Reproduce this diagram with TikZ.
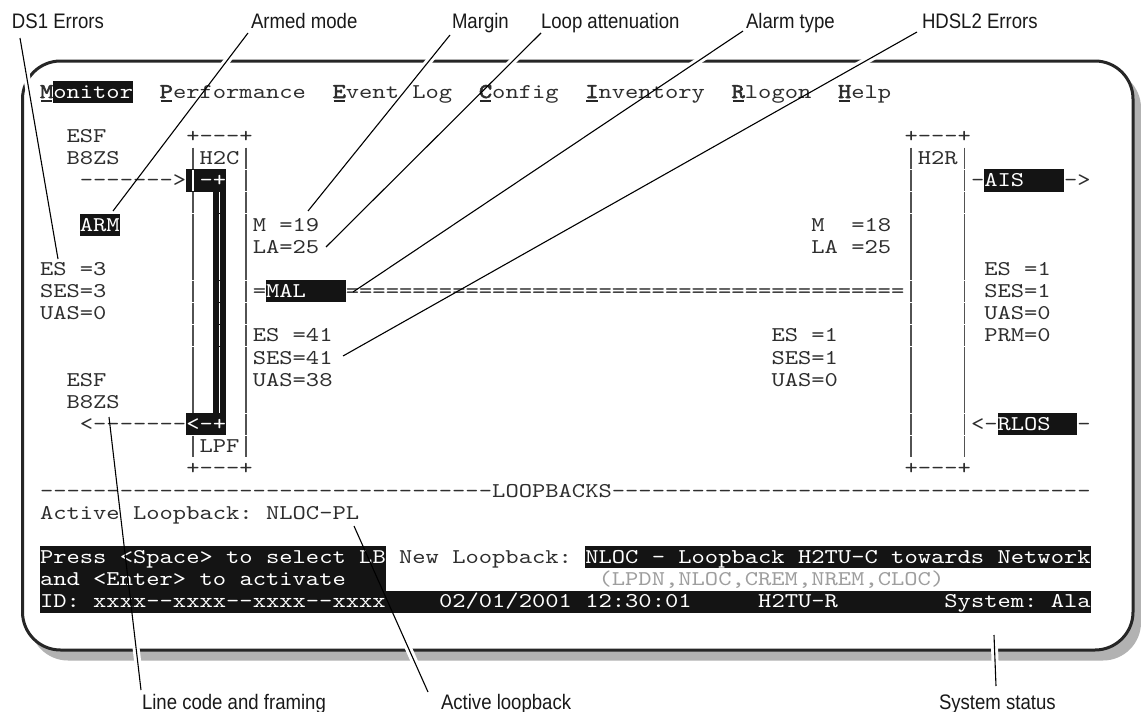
\documentclass[tikz,border=0pt]{standalone}
\usepackage{fontspec}
\newfontfamily\mono{lmmono10-regular.otf}[FakeStretch=1.206]
\newfontfamily\monob{lmmono10-regular.otf}[FakeStretch=1.206,FakeBold=2.5]
\newfontfamily\lbl{Liberation Sans}[FakeStretch=0.885]
\newcommand\tcell[4][]{\node[mono,#1] (t#2x#3) at ({40+13.3*(#3)},{98+22.17*(#2)}) {#4};}
\newcommand\hlc[3]{\fill[hlbox] ({40+13.3*(#2)},{98+22.17*(#1)-17.3}) rectangle ({40+13.3*(#3+1)},{98+22.17*(#1)+4.87});}
\newcommand\ul[1]{\draw[line width=1.8pt,black!85] ({40+13.3*(#1)+1},101) -- ({40+13.3*(#1)+12.3},101);}
\newcommand\vbar[3][]{\draw[vb,#1] ({40+13.3*(#3)+6.65},{98+22.17*(#2)-16.9}) -- ({40+13.3*(#3)+6.65},{98+22.17*(#2)+4.6});}
\begin{document}
\begin{tikzpicture}[x=1pt,y=-1pt,
  mono/.style={anchor=base west,inner sep=0pt,outer sep=0pt,font=\mono\fontsize{21}{22}\selectfont,text=black!82},
  inv/.style={text=white},
  dim/.style={text=black!38},
  bold/.style={font=\monob\fontsize{21}{22}\selectfont},
  hlbox/.style={fill=black!92},
  vb/.style={line width=1.4pt,black!68},
  vbw/.style={white,line width=1.2pt},
  lab/.style={anchor=base west,inner sep=0pt,outer sep=0pt,font=\lbl\fontsize{21}{24}\selectfont,text=black!90},
  lead/.style={line width=1.1pt,black},
  halo/.style={line width=7pt,white}]
\useasboundingbox (0,0) rectangle (1141,712);
\fill[white] (0,0) rectangle (1141,712);
% frame with shadow
\fill[black!30,rounded corners=38pt] (30,70) rectangle (1141,660.5);
\draw[line width=3pt,black!85,fill=white,rounded corners=38pt] (22.5,61) rectangle (1133,650);
% leader end points
\coordinate (ds1a) at (20,38);   \coordinate (ds1b) at (58,259);
\coordinate (arma) at (248,33);  \coordinate (armb) at (113,211);
\coordinate (mara) at (450,35);  \coordinate (marb) at (308,211);
\coordinate (loopa) at (541,33); \coordinate (loopb) at (326,247);
\coordinate (alarma) at (743,31); \coordinate (alarmb) at (353,292);
\coordinate (hdsla) at (917,32); \coordinate (hdslb) at (343,356);
\coordinate (linea) at (109,417); \coordinate (lineb) at (141,690);
\coordinate (acta) at (354,526); \coordinate (actb) at (428,692);
\coordinate (sysa) at (994,635); \coordinate (sysb) at (996,686);
% halos (gaps in the frame)
\foreach \a/\b in {ds1a/ds1b,arma/armb,mara/marb,loopa/loopb,alarma/alarmb,hdsla/hdslb,linea/lineb,acta/actb,sysa/sysb}
  \draw[halo] (\a) -- (\b);
% highlight boxes
\hlc{0}{1}{6}
\hlc{4}{11}{13}
\hlc{4}{71}{76}
\fill[hlbox] ({40+13.3*13},{98+22.17*5-17.3}) rectangle ({40+13.3*14},{98+22.17*14+4.87});
\hlc{6}{3}{5}
\hlc{9}{17}{22}
\hlc{15}{11}{13}
\hlc{15}{72}{77}
\hlc{21}{0}{25}
\hlc{21}{41}{78}
\hlc{22}{0}{25}
\hlc{23}{0}{78}
% vertical bars of the two unit boxes
\foreach \r in {3,...,16}{
  \vbar{\r}{15} \vbar{\r}{65} \vbar{\r}{69}
}
\foreach \r in {3,5,6,7,8,9,10,11,12,13,14,16}{ \vbar{\r}{11} }
\vbar[vbw]{4}{11}
\foreach \r in {5,...,14}{ \vbar[vbw]{\r}{13} }
% row 0 menu
\tcell[bold]{0}{0}{M} \tcell[inv]{0}{1}{onitor}
\tcell[bold]{0}{9}{P} \tcell{0}{10}{erformance}
\tcell[bold]{0}{22}{E} \tcell{0}{23}{vent} \tcell{0}{28}{Log}
\tcell[bold]{0}{33}{C} \tcell{0}{34}{onfig}
\tcell[bold]{0}{41}{I} \tcell{0}{42}{nventory}
\tcell[bold]{0}{52}{R} \tcell{0}{53}{logon}
\tcell[bold]{0}{60}{H} \tcell{0}{61}{elp}
\ul{0}\ul{9}\ul{22}\ul{33}\ul{41}\ul{52}\ul{60}
% rows 2-4
\tcell{2}{2}{ESF} \tcell{2}{11}{+---+} \tcell{2}{65}{+---+}
\tcell{3}{2}{B8ZS} \tcell{3}{12}{H2C} \tcell{3}{66}{H2R}
\tcell{4}{3}{------->} \tcell[inv]{4}{12}{-+}
\tcell{4}{70}{-} \tcell[inv]{4}{71}{AIS} \tcell{4}{77}{->}
\tcell[inv]{6}{3}{ARM}
\tcell{6}{16}{M} \tcell{6}{18}{=19} \tcell{6}{58}{M} \tcell{6}{61}{=18}
\tcell{7}{16}{LA=25} \tcell{7}{58}{LA} \tcell{7}{61}{=25}
\tcell{8}{0}{ES} \tcell{8}{3}{=3} \tcell{8}{71}{ES} \tcell{8}{74}{=1}
\tcell{9}{0}{SES=3} \tcell{9}{16}{=} \tcell[inv]{9}{17}{MAL}
\tcell{9}{23}{==========================================} \tcell{9}{71}{SES=1}
\tcell{10}{0}{UAS=0} \tcell{10}{71}{UAS=0}
\tcell{11}{16}{ES} \tcell{11}{19}{=41} \tcell{11}{55}{ES} \tcell{11}{58}{=1} \tcell{11}{71}{PRM=0}
\tcell{12}{16}{SES=41} \tcell{12}{55}{SES=1}
\tcell{13}{2}{ESF} \tcell{13}{16}{UAS=38} \tcell{13}{55}{UAS=0}
\tcell{14}{2}{B8ZS}
\tcell{15}{3}{<-------} \tcell[inv]{15}{11}{<-+}
\tcell{15}{70}{<-} \tcell[inv]{15}{72}{RLOS} \tcell{15}{78}{-}
\tcell{16}{12}{LPF}
\tcell{17}{11}{+---+} \tcell{17}{65}{+---+}
\tcell{18}{0}{----------------------------------} \tcell{18}{34}{LOOPBACKS}
\tcell{18}{43}{------------------------------------}
\tcell{19}{0}{Active} \tcell{19}{7}{Loopback:} \tcell{19}{17}{NLOC-PL}
\tcell[inv]{21}{0}{Press} \tcell[inv]{21}{6}{<Space>} \tcell[inv]{21}{14}{to} \tcell[inv]{21}{17}{select} \tcell[inv]{21}{24}{LB}
\tcell{21}{27}{New} \tcell{21}{31}{Loopback:}
\tcell[inv]{21}{41}{NLOC} \tcell[inv]{21}{46}{-} \tcell[inv]{21}{48}{Loopback} \tcell[inv]{21}{57}{H2TU-C} \tcell[inv]{21}{64}{towards} \tcell[inv]{21}{72}{Network}
\tcell[inv]{22}{0}{and} \tcell[inv]{22}{4}{<Enter>} \tcell[inv]{22}{12}{to} \tcell[inv]{22}{15}{activate}
\tcell[dim]{22}{42}{(LPDN,NLOC,CREM,NREM,CLOC)}
\tcell[inv]{23}{0}{ID:} \tcell[inv]{23}{4}{xxxx--xxxx--xxxx--xxxx} \tcell[inv]{23}{30}{02/01/2001}
\tcell[inv]{23}{41}{12:30:01} \tcell[inv]{23}{54}{H2TU-R} \tcell[inv]{23}{68}{System:} \tcell[inv]{23}{76}{Ala}
% labels
\node[lab] (lds1) at (12,28) {DS1 Errors};
\node[lab] (larm) at (251,28) {Armed mode};
\node[lab] (lmar) at (452,28) {Margin};
\node[lab] (lloop) at (541,28) {Loop attenuation};
\node[lab] (lalarm) at (746,28) {Alarm type};
\node[lab] (lhdsl) at (922,28) {HDSL2 Errors};
\node[lab] (lline) at (142,709) {Line code and framing};
\node[lab] (lact) at (441,709) {Active loopback};
\node[lab] (lsys) at (939,709) {System status};
% leader lines
\foreach \a/\b in {ds1a/ds1b,arma/armb,mara/marb,loopa/loopb,alarma/alarmb,hdsla/hdslb,linea/lineb,acta/actb,sysa/sysb}
  \draw[lead] (\a) -- (\b);
\end{tikzpicture}
\end{document}
